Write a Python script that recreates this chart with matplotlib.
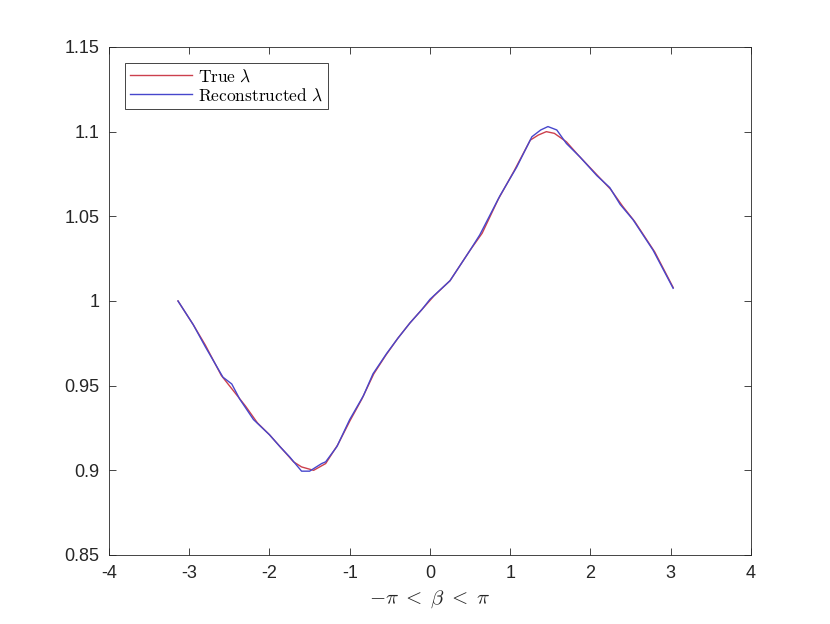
import numpy as np
import matplotlib
matplotlib.use('Agg')
import matplotlib.pyplot as plt

plt.rcParams['font.family'] = ['Liberation Sans', 'DejaVu Sans']
plt.rcParams['mathtext.fontset'] = 'cm'

# true lambda
beta_true = [-3.14, -2.95, -2.8, -2.6, -2.45, -2.3, -2.15, -2.0, -1.85, -1.7, -1.6,
             -1.45, -1.3, -1.15, -1.0, -0.85, -0.7, -0.55, -0.4, -0.25, -0.1, 0.05,
             0.25, 0.5, 0.65, 0.85, 1.05, 1.25, 1.35, 1.45, 1.55, 1.7, 1.85, 2.05,
             2.25, 2.4, 2.55, 2.8, 3.03]
lam_true = [1.000, 0.986, 0.974, 0.956, 0.947, 0.938, 0.928, 0.921, 0.913, 0.905, 0.902,
            0.900, 0.904, 0.915, 0.929, 0.942, 0.957, 0.968, 0.978, 0.987, 0.995, 1.003,
            1.012, 1.030, 1.040, 1.060, 1.077, 1.095, 1.098, 1.100, 1.099, 1.094, 1.086,
            1.076, 1.066, 1.056, 1.047, 1.029, 1.008]

# reconstructed lambda
beta_rec = [-3.14, -2.95, -2.8, -2.58, -2.47, -2.37, -2.2, -2.0, -1.87, -1.75, -1.6,
            -1.5, -1.35, -1.3, -1.16, -1.0, -0.83, -0.71, -0.54, -0.4, -0.25, -0.1,
            0.0, 0.25, 0.5, 0.62, 0.87, 1.08, 1.27, 1.38, 1.47, 1.58, 1.7, 1.87, 2.08,
            2.24, 2.37, 2.53, 2.78, 3.03]
lam_rec = [1.000, 0.986, 0.973, 0.955, 0.951, 0.942, 0.930, 0.921, 0.914, 0.908, 0.8995,
           0.8995, 0.904, 0.905, 0.914, 0.930, 0.944, 0.957, 0.969, 0.978, 0.987, 0.995,
           1.001, 1.012, 1.030, 1.039, 1.062, 1.079, 1.097, 1.101, 1.103, 1.101, 1.093,
           1.085, 1.074, 1.067, 1.057, 1.048, 1.030, 1.0075]

fig = plt.figure(figsize=(8.3, 6.24), dpi=100)
ax = fig.add_axes([0.1313, 0.1106, 0.7735, 0.8141])

ax.plot(beta_true, lam_true, color=(0.8, 0.25, 0.3), lw=1.0, label=r'$\mathrm{True}\ \lambda$')
ax.plot(beta_rec, lam_rec, color=(0.28, 0.28, 0.8), lw=1.0, label=r'$\mathrm{Reconstructed}\ \lambda$')

ax.set_xlim(-4, 4)
ax.set_ylim(0.85, 1.15)
ax.set_xticks(np.arange(-4, 5, 1))
ax.set_yticks([0.85, 0.9, 0.95, 1.0, 1.05, 1.1, 1.15])
ax.set_yticklabels(['0.85', '0.9', '0.95', '1', '1.05', '1.1', '1.15'])
ax.set_xticklabels(['-4', '-3', '-2', '-1', '0', '1', '2', '3', '4'])

ax.tick_params(direction='in', top=True, right=True, length=5, width=0.6,
               labelsize=13, colors=(0.15, 0.15, 0.15), pad=7)
for s in ax.spines.values():
    s.set_linewidth(0.6)
    s.set_color((0.15, 0.15, 0.15))

ax.set_xlabel(r'$-\pi \;<\; \beta \;<\; \pi$', fontsize=15, color=(0.15, 0.15, 0.15), labelpad=5)

leg = ax.legend(loc='upper left', fontsize=12.5, fancybox=False, framealpha=1,
                edgecolor=(0.15, 0.15, 0.15), handlelength=3.6, borderpad=0.3,
                labelspacing=0.15, handletextpad=0.3, borderaxespad=0.9)
leg.get_frame().set_linewidth(0.6)

fig.savefig('out.png', dpi=100)
